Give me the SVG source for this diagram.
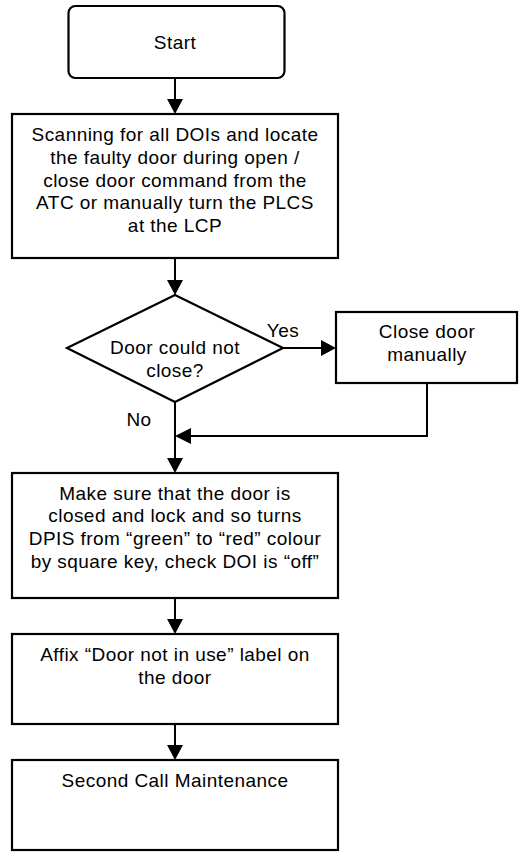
<svg xmlns="http://www.w3.org/2000/svg" width="519" height="855" viewBox="0 0 519 855">
<style>
.box{fill:#fff;stroke:#000;stroke-width:2.2}
.ln{fill:none;stroke:#000;stroke-width:2}
.ah{fill:#000;stroke:none}
text{font-family:"Liberation Sans",Arial,sans-serif;font-size:19px;letter-spacing:0.45px;fill:#000;text-anchor:middle}
</style>
<rect width="519" height="855" fill="#fff"/>
<g id="connectors">
<line class="ln" x1="175" y1="78" x2="175" y2="100"/>
<polygon class="ah" points="167,99 183,99 175,114"/>
<line class="ln" x1="175" y1="258" x2="175" y2="281"/>
<polygon class="ah" points="167,280 183,280 175,295"/>
<line class="ln" x1="283" y1="348" x2="322" y2="348"/>
<polygon class="ah" points="321,340 321,356 336,348"/>
<polyline class="ln" points="427,383 427,436 190,436"/>
<polygon class="ah" points="191,428 191,444 175,436"/>
<line class="ln" x1="175" y1="402" x2="175" y2="459"/>
<polygon class="ah" points="167,458 183,458 175,473"/>
<line class="ln" x1="175" y1="598" x2="175" y2="620"/>
<polygon class="ah" points="167,619 183,619 175,634"/>
<line class="ln" x1="175" y1="724" x2="175" y2="746"/>
<polygon class="ah" points="167,745 183,745 175,760"/>
<text x="283" y="337">Yes</text>
<text x="139" y="426">No</text>
</g>
<g id="start">
<rect class="box" x="68.5" y="6" width="216" height="72" rx="7"/>
<text x="175" y="49">Start</text>
</g>
<g id="scan">
<rect class="box" x="12" y="114" width="326" height="144"/>
<text x="175" y="141">Scanning for all DOIs and locate</text>
<text x="175" y="164">the faulty door during open /</text>
<text x="175" y="187">close door command from the</text>
<text x="175" y="209">ATC or manually turn the PLCS</text>
<text x="175" y="232">at the LCP</text>
</g>
<g id="decision">
<polygon class="box" points="175,295 283,348 175,402 67,348"/>
<text x="175" y="354">Door could not</text>
<text x="175" y="377">close?</text>
</g>
<g id="close-manually">
<rect class="box" x="336" y="312" width="181" height="71"/>
<text x="427" y="338">Close door</text>
<text x="427" y="361">manually</text>
</g>
<g id="make-sure">
<rect class="box" x="12" y="473" width="326" height="125"/>
<text x="175" y="500">Make sure that the door is</text>
<text x="175" y="522">closed and lock and so turns</text>
<text x="175" y="545">DPIS from “green” to “red” colour</text>
<text x="175" y="568">by square key, check DOI is “off”</text>
</g>
<g id="affix">
<rect class="box" x="12" y="634" width="326" height="90"/>
<text x="175" y="661">Affix “Door not in use” label on</text>
<text x="175" y="684">the door</text>
</g>
<g id="second-call">
<rect class="box" x="12" y="760" width="326" height="90"/>
<text x="175" y="787">Second Call Maintenance</text>
</g>
</svg>
